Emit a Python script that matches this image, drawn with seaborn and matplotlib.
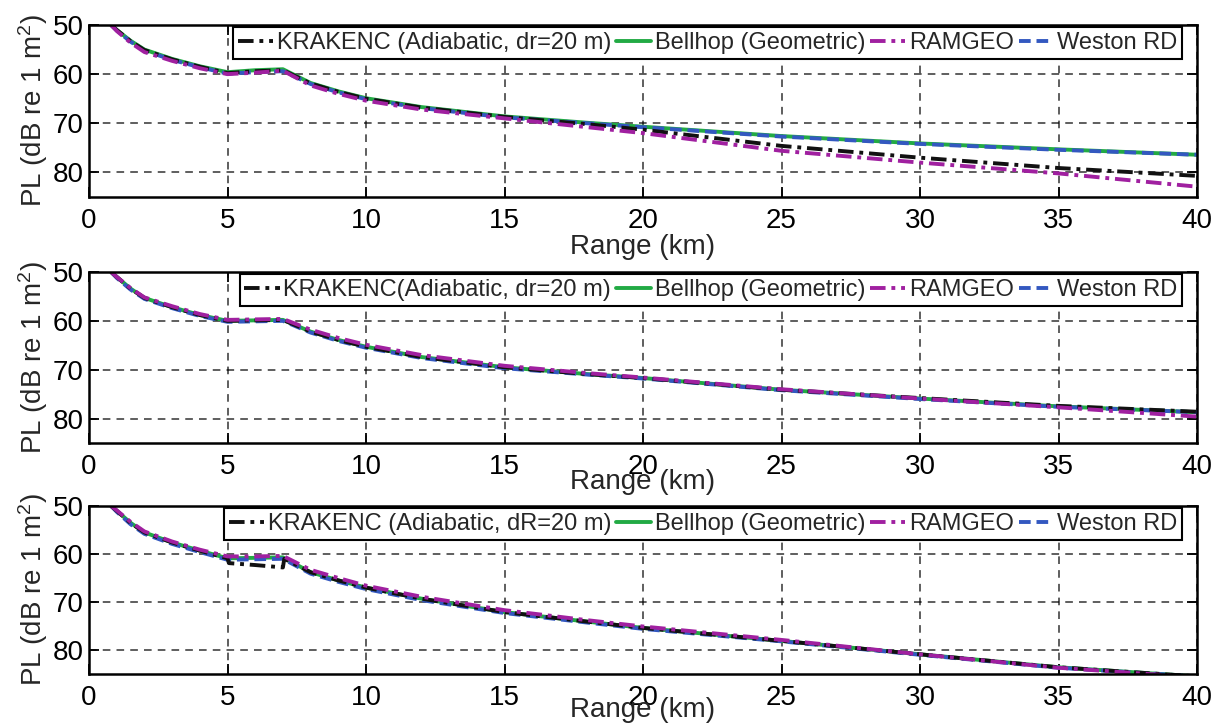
import matplotlib
matplotlib.use("Agg")
import matplotlib.pyplot as plt
import seaborn as sns

# ---------------- data ----------------
ranges = [0.8, 1, 1.5, 2, 3, 4, 5, 6, 7, 8, 9, 10, 12, 15, 18, 20, 25, 30, 35, 40]

bellhop_1 = [50, 51.0, 53.2, 55.0, 56.9, 58.4, 59.6, 59.2, 59.0, 61.8, 63.5, 64.9, 66.7, 68.6, 69.9, 70.7, 72.6, 74.1, 75.3, 76.4]
weston_1  = [50, 51.1, 53.4, 55.2, 57.1, 58.6, 59.9, 59.6, 59.4, 62.0, 63.7, 65.1, 66.9, 68.8, 70.0, 70.8, 72.7, 74.2, 75.4, 76.4]
kraken_1  = [50, 51.0, 53.3, 55.1, 57.0, 58.5, 59.8, 59.4, 59.2, 61.9, 63.6, 65.0, 66.8, 68.7, 70.2, 71.3, 74.6, 77.0, 79.1, 80.7]
ramgeo_1  = [50, 51.2, 53.6, 55.5, 57.3, 58.8, 60.0, 59.7, 59.3, 62.3, 64.0, 65.4, 67.2, 69.0, 70.8, 72.0, 75.6, 78.0, 80.2, 82.9]

bellhop_2 = [50, 51.0, 53.4, 55.3, 57.2, 58.8, 60.0, 59.9, 59.8, 62.2, 63.9, 65.3, 67.4, 69.5, 70.9, 71.7, 74.1, 75.9, 77.5, 78.7]
weston_2  = [50, 51.2, 53.6, 55.5, 57.4, 59.0, 60.2, 60.1, 60.0, 62.4, 64.1, 65.5, 67.6, 69.7, 71.0, 71.8, 74.2, 76.0, 77.6, 78.7]
kraken_2  = [50, 51.0, 53.4, 55.3, 57.2, 58.8, 60.0, 59.9, 59.8, 62.2, 63.9, 65.3, 67.4, 69.5, 70.9, 71.7, 74.1, 75.8, 77.4, 78.6]
ramgeo_2  = [50, 51.0, 53.3, 55.2, 57.0, 58.6, 59.8, 59.7, 59.6, 61.8, 63.5, 64.9, 67.0, 69.2, 70.7, 71.6, 74.0, 75.9, 77.7, 79.6]

bellhop_3 = [50, 51.0, 53.5, 55.5, 57.6, 59.3, 60.9, 60.8, 60.7, 63.8, 65.5, 67.0, 69.3, 72.1, 74.1, 75.4, 78.1, 80.9, 83.6, 85.5]
weston_3  = [50, 51.2, 53.8, 55.8, 57.9, 59.6, 61.2, 61.1, 61.0, 64.1, 65.8, 67.3, 69.6, 72.3, 74.3, 75.6, 78.2, 81.0, 83.7, 85.5]
ramgeo_3  = [50, 50.9, 53.3, 55.3, 57.4, 59.1, 60.5, 60.5, 60.4, 63.3, 65.0, 66.6, 68.9, 71.7, 73.8, 75.1, 77.9, 80.9, 83.7, 85.7]
kraken_3_ranges = [0.8, 1, 1.5, 2, 3, 4, 5, 5.05, 6, 7, 7.05, 8, 9, 10, 12, 15, 18, 20, 25, 30, 35, 40]
kraken_3  = [50, 51.0, 53.5, 55.5, 57.6, 59.3, 60.9, 61.9, 62.3, 62.8, 61.0, 63.8, 65.5, 67.0, 69.3, 72.1, 74.1, 75.4, 78.1, 80.9, 83.6, 85.5]

kraken_labels = ["KRAKENC (Adiabatic, dr=20 m)",
                 "KRAKENC(Adiabatic, dr=20 m)",
                 "KRAKENC (Adiabatic, dR=20 m)"]
bellhop_label = "Bellhop (Geometric)"
ramgeo_label = "RAMGEO"
weston_label = "Weston RD"

x_ticks = [0, 5, 10, 15, 20, 25, 30, 35, 40]
y_ticks = [50, 60, 70, 80]

panels = [
    dict(bell=bellhop_1, west=weston_1, ram=ramgeo_1, krx=ranges, kr=kraken_1, klabel=kraken_labels[0]),
    dict(bell=bellhop_2, west=weston_2, ram=ramgeo_2, krx=ranges, kr=kraken_2, klabel=kraken_labels[1]),
    dict(bell=bellhop_3, west=weston_3, ram=ramgeo_3, krx=kraken_3_ranges, kr=kraken_3, klabel=kraken_labels[2]),
]

# ---------------- style ----------------
sns.set_style("ticks")
plt.rcParams['font.family'] = ['Liberation Sans', 'DejaVu Sans']
plt.rcParams['mathtext.fontset'] = 'custom'
plt.rcParams['mathtext.rm'] = 'Liberation Sans'
plt.rcParams['mathtext.it'] = 'Liberation Sans'

c_kraken = "#111111"
c_bell = "#22aa44"
c_ram = "#a020a0"
c_west = "#3358c0"

fig = plt.figure(figsize=(12.11, 7.27), dpi=100)
W, H = 1211.0, 727.0
boxes = [(25, 197), (272, 443), (506, 674)]
xlabel_pads = [0, -8, -10]
left_px, right_px = 89, 1197

for p, (top, bot), lp in zip(panels, boxes, xlabel_pads):
    ax = fig.add_axes([left_px / W, 1 - bot / H, (right_px - left_px) / W, (bot - top) / H])
    lw = 2.8
    sns.lineplot(x=ranges, y=p['bell'], ax=ax, color=c_bell, linestyle='-', linewidth=lw, label=bellhop_label)
    sns.lineplot(x=ranges, y=p['west'], ax=ax, color=c_west, linestyle=(0, (3, 1.5)), linewidth=lw, label=weston_label)
    sns.lineplot(x=p['krx'], y=p['kr'], ax=ax, color=c_kraken, linestyle=(0, (4, 1.5, 1, 1.5)), linewidth=lw, label=p['klabel'])
    sns.lineplot(x=ranges, y=p['ram'], ax=ax, color=c_ram, linestyle=(0, (4, 1.5, 1, 1.5)), linewidth=lw, label=ramgeo_label)

    ax.set_xlim(0, 40)
    ax.set_ylim(85, 50)
    ax.set_xticks(x_ticks)
    ax.set_yticks(y_ticks)
    ax.tick_params(direction='in', top=True, right=True, length=7, width=1.3,
                   labelsize=20, colors='black', pad=8)
    ax.tick_params(axis='y', pad=4)
    ax.grid(True, color='black', linestyle=(0, (5, 4)), linewidth=1.1, alpha=0.8)
    for s in ax.spines.values():
        s.set_linewidth(1.8)
        s.set_color('black')
    ax.set_xlabel("Range (km)", fontsize=20, labelpad=lp)
    ax.set_ylabel("PL (dB re 1 m$^2$)", fontsize=20, labelpad=2)

    handles, labels = ax.get_legend_handles_labels()
    order = [2, 0, 3, 1]
    leg = ax.legend([handles[i] for i in order], [labels[i] for i in order],
                    loc='upper right', bbox_to_anchor=(0.989, 1.0), ncol=4,
                    fontsize=17, frameon=True, fancybox=False, framealpha=1,
                    edgecolor='black', handlelength=1.5, handletextpad=0.15,
                    columnspacing=0.2, borderpad=0.2, borderaxespad=0.1)
    leg.get_frame().set_linewidth(1.5)

fig.savefig("out.png", dpi=100)
